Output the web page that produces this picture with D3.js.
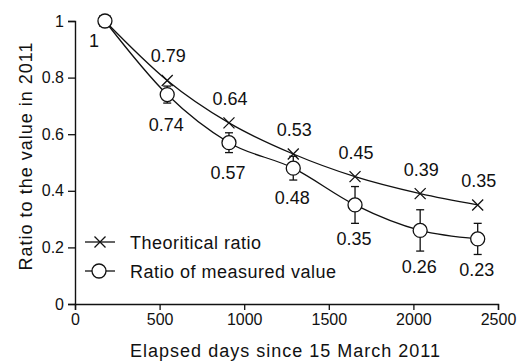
<!DOCTYPE html>
<html>
<head>
<meta charset="utf-8">
<script src="https://cdn.jsdelivr.net/npm/d3@7"></script>
<style>
  html, body { margin: 0; padding: 0; background: #fff; }
  svg { display: block; }
  text { font-family: "Liberation Sans", Arial, sans-serif; fill: #111; }
</style>
</head>
<body>
<svg id="chart" width="517" height="362"></svg>
<script>
// ---- data ----
const days        = [177, 545, 910, 1290, 1655, 2040, 2380];
const theoretical = [1, 0.79, 0.64, 0.53, 0.45, 0.39, 0.35];
const measured    = [1, 0.74, 0.57, 0.48, 0.35, 0.26, 0.23];
const measuredErr = [0, 0.03, 0.035, 0.042, 0.065, 0.073, 0.055];
const xTicks = [0, 500, 1000, 1500, 2000, 2500];
const yTicks = [0, 0.2, 0.4, 0.6, 0.8, 1];
const seriesNames = ["Theoritical ratio", "Ratio of measured value"];
const xTitle = "Elapsed days since 15 March 2011";
const yTitle = "Ratio to the value in 2011";

// ---- layout ----
const svg = d3.select("#chart");
const x = d3.scaleLinear().domain([0, 2500]).range([75, 498]);
const y = d3.scaleLinear().domain([0, 1]).range([304, 21]);
const ink = "#111";

// axes
const xAxis = svg.append("g").attr("transform", `translate(0,${y(0)})`)
  .call(d3.axisBottom(x).tickValues(xTicks).tickFormat(d3.format("d")).tickSizeOuter(0).tickSize(6).tickPadding(4));
const yAxis = svg.append("g").attr("transform", `translate(${x(0)},0)`)
  .call(d3.axisLeft(y).tickValues(yTicks).tickFormat(d => d === 0 || d === 1 ? d3.format("d")(d) : d3.format(".1f")(d)).tickSizeOuter(0).tickSize(7).tickPadding(4));
[xAxis, yAxis].forEach(g => {
  g.attr("font-size", 16).attr("font-family", '"Liberation Sans", Arial, sans-serif');
  g.select(".domain").attr("stroke", ink).attr("stroke-width", 1.4);
  g.selectAll(".tick line").attr("stroke", ink).attr("stroke-width", 1.3);
  g.selectAll(".tick text").attr("font-size", 16).attr("fill", ink);
});

// axis titles
svg.append("text").attr("x", (x(0) + x(2500)) / 2 - 1).attr("y", 357)
  .attr("text-anchor", "middle").attr("font-size", 18).attr("letter-spacing", 1)
  .text(xTitle);
svg.append("text").attr("transform", `translate(32,156) rotate(-90)`)
  .attr("text-anchor", "middle").attr("font-size", 18).attr("letter-spacing", 1)
  .text(yTitle);

const line = d3.line().curve(d3.curveMonotoneX);

// lines
svg.append("path")
  .attr("d", line(days.map((d, i) => [x(d), y(theoretical[i])])))
  .attr("fill", "none").attr("stroke", ink).attr("stroke-width", 1.3);
svg.append("path")
  .attr("d", line(days.map((d, i) => [x(d), y(measured[i])])))
  .attr("fill", "none").attr("stroke", ink).attr("stroke-width", 1.3);

// error bars
const capW = 4;
days.forEach((d, i) => {
  if (measuredErr[i] <= 0) return;
  const cx = x(d), y1 = y(measured[i] + measuredErr[i]), y2 = y(measured[i] - measuredErr[i]);
  const g = svg.append("g").attr("stroke", ink).attr("stroke-width", 1.3);
  g.append("line").attr("x1", cx).attr("x2", cx).attr("y1", y1).attr("y2", y2);
  g.append("line").attr("x1", cx - capW).attr("x2", cx + capW).attr("y1", y1).attr("y2", y1);
  g.append("line").attr("x1", cx - capW).attr("x2", cx + capW).attr("y1", y2).attr("y2", y2);
});

// markers
const r = 7, xs = 5.5;
function cross(g, cx, cy) {
  g.append("path").attr("d", `M${cx - xs},${cy - xs}L${cx + xs},${cy + xs}M${cx - xs},${cy + xs}L${cx + xs},${cy - xs}`)
    .attr("stroke", ink).attr("stroke-width", 1.3).attr("fill", "none");
}
function circ(g, cx, cy) {
  g.append("circle").attr("cx", cx).attr("cy", cy).attr("r", r)
    .attr("fill", "#fff").attr("stroke", ink).attr("stroke-width", 1.3);
}
const mk = svg.append("g");
days.forEach((d, i) => cross(mk, x(d), y(theoretical[i])));
days.forEach((d, i) => circ(mk, x(d), y(measured[i])));

// value labels
const fmt = v => v === 1 ? "1" : d3.format(".2f")(v);
days.forEach((d, i) => {
  if (i === 0) {
    svg.append("text").attr("x", x(d) - 11).attr("y", y(measured[i]) + 26)
      .attr("text-anchor", "middle").attr("font-size", 18).text(fmt(measured[i]));
    return;
  }
  svg.append("text").attr("x", x(d) + 1).attr("y", y(theoretical[i]) - 18)
    .attr("text-anchor", "middle").attr("font-size", 18).text(fmt(theoretical[i]));
  const lowY = y(measured[i] - measuredErr[i]);
  const by = Math.max(lowY + 22, y(measured[i]) + 36);
  svg.append("text").attr("x", x(d) - 1).attr("y", by)
    .attr("text-anchor", "middle").attr("font-size", 18).text(fmt(measured[i]));
});

// legend
const lg = svg.append("g");
const legRows = [242, 271];
legRows.forEach((ly, i) => {
  lg.append("line").attr("x1", 85).attr("x2", 115).attr("y1", ly).attr("y2", ly)
    .attr("stroke", ink).attr("stroke-width", 1.3);
  if (i === 0) cross(lg, 100, ly); else circ(lg, 99, ly);
  lg.append("text").attr("x", 130).attr("y", ly + 6.5).attr("font-size", 18)
    .attr("letter-spacing", 0.5).text(seriesNames[i]);
});
</script>
</body>
</html>
